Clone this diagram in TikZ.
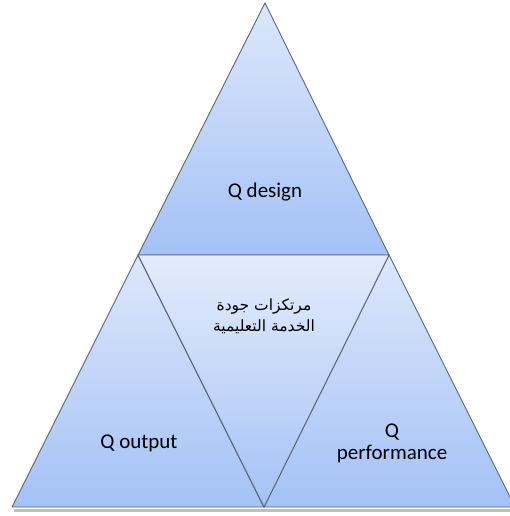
\documentclass[tikz,border=0pt]{standalone}
\usepackage{fontspec}
\setmainfont{Carlito}
\newfontfamily\arabicfont[Script=Arabic]{DejaVu Sans}
\TeXXeTstate=1
\usetikzlibrary{positioning}

\definecolor{triTop}{HTML}{DDE7FB}
\definecolor{triBot}{HTML}{A3C2F6}
\definecolor{triLine}{HTML}{5A6678}
\tikzset{
  part/.style={top color=triTop, bottom color=triBot, draw=triLine, line width=0.9pt, line join=round},
  lbl/.style={font=\fontsize{21}{22}\selectfont, align=center, inner sep=0pt}
}

\begin{document}
\begin{tikzpicture}[x=1pt, y=-1pt]
\useasboundingbox (0,0) rectangle (510,516);
\coordinate (apex) at (265,3);
\coordinate (ml) at (138,255);
\coordinate (mr) at (389,255);
\coordinate (bl) at (12,507);
\coordinate (bm) at (264,507);
\coordinate (br) at (515,507);
% shadow under the base
\draw[black!25, line width=2.5pt] (14,510.5) -- (510,510.5);
\shade[part] (apex)--(mr)--(ml)--cycle;
\shade[part] (ml)--(bm)--(bl)--cycle;
\shade[part] (mr)--(br)--(bm)--cycle;
\shade[part, top color=triTop!80!white] (ml)--(mr)--(bm)--cycle;
\node[lbl] (design) at (265,192) {Q design};
\node[lbl] (output) at (139,443) {Q output};
\node[lbl] (performance) at (392,443) {Q\\performance};
\node[lbl, font=\arabicfont\fontsize{15.5}{21}\selectfont] (core) at (264,316)
  {\beginR مرتكزات جودة\endR\\\beginR الخدمة التعليمية\endR};
\end{tikzpicture}
\end{document}
